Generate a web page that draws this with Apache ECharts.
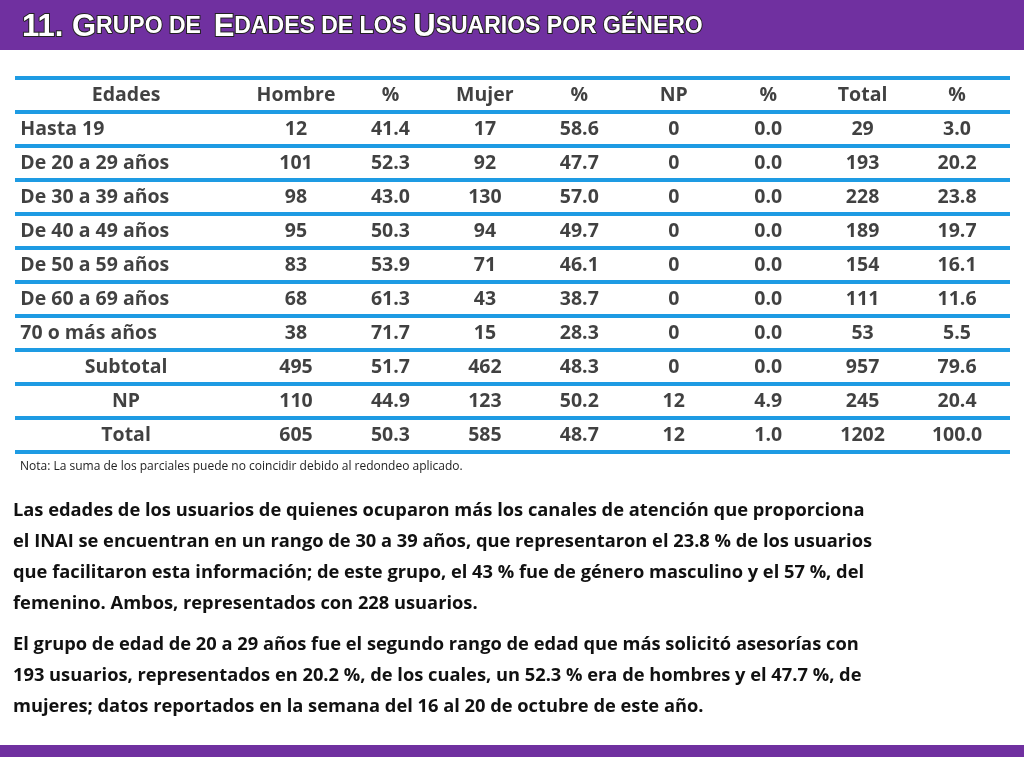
<!DOCTYPE html>
<html><head><meta charset="utf-8">
<script src="https://cdn.jsdelivr.net/npm/echarts@6/dist/echarts.min.js"></script>
<style>html,body{margin:0;padding:0;background:#fff}#c{width:1024px;height:768px}</style>
</head><body><div id="c"></div>
<script>
const headers = ['Edades','Hombre','%','Mujer','%','NP','%','Total','%'];
const rowLabels = ['Hasta 19','De 20 a 29 años','De 30 a 39 años','De 40 a 49 años','De 50 a 59 años','De 60 a 69 años','70 o más años','Subtotal','NP','Total'];
const hombre = [12,101,98,95,83,68,38,495,110,605];
const hombrePct = ['41.4','52.3','43.0','50.3','53.9','61.3','71.7','51.7','44.9','50.3'];
const mujer = [17,92,130,94,71,43,15,462,123,585];
const mujerPct = ['58.6','47.7','57.0','49.7','46.1','38.7','28.3','48.3','50.2','48.7'];
const np = [0,0,0,0,0,0,0,0,12,12];
const npPct = ['0.0','0.0','0.0','0.0','0.0','0.0','0.0','0.0','4.9','1.0'];
const total = [29,193,228,189,154,111,53,957,245,1202];
const totalPct = ['3.0','20.2','23.8','19.7','16.1','11.6','5.5','79.6','20.4','100.0'];
const note = 'Nota: La suma de los parciales puede no coincidir debido al redondeo aplicado.';
const para1 = ['Las edades de los usuarios de quienes ocuparon más los canales de atención que proporciona','el INAI se encuentran en un rango de 30 a 39 años, que representaron el 23.8 % de los usuarios','que facilitaron esta información; de este grupo, el 43 % fue de género masculino y el 57 %, del','femenino. Ambos, representados con 228 usuarios.'];
const para2 = ['El grupo de edad de 20 a 29 años fue el segundo rango de edad que más solicitó asesorías con','193 usuarios, representados en 20.2 %, de los cuales, un 52.3 % era de hombres y el 47.7 %, de','mujeres; datos reportados en la semana del 16 al 20 de octubre de este año.'];

const yCats = ['h'].concat(rowLabels.map((_, i) => 'r' + i));
const centerData = [], leftData = [];
headers.forEach((h, c) => centerData.push([c === 0 ? -0.8 : c, 0, h]));
const cols = [hombre, hombrePct, mujer, mujerPct, np, npPct, total, totalPct];
rowLabels.forEach((lab, r) => {
  if (r >= 7) centerData.push([-0.8, r + 1, lab]); else leftData.push([-1.92, r + 1, lab]);
  cols.forEach((arr, c) => centerData.push([c + 1, r + 1, String(arr[r])]));
});
const font = 'Open Sans';
const chart = echarts.init(document.getElementById('c'));
const graphics = [
  {type:'rect', shape:{x:0,y:0,width:1024,height:50}, style:{fill:'#7030a0'}},
  {type:'rect', shape:{x:0,y:745,width:1024,height:12}, style:{fill:'#7030a0'}},
  {type:'text', x:22, y:27, style:{text:'{b|11. G}{s|RUPO DE  }{b|E}{s|DADES DE LOS }{b|U}{s|SUARIOS POR GÉNERO}', verticalAlign:'middle',
    rich:{b:{fontSize:31,fontWeight:'bold',fontFamily:'Liberation Sans',fill:'#fff',stroke:'#222',lineWidth:2},
          s:{fontSize:23,fontWeight:'bold',fontFamily:'Liberation Sans',fill:'#fff',stroke:'#222',lineWidth:2}}}},
  {type:'text', x:20, y:467, style:{text:note, fontSize:12, fontFamily:'Open Sans', fill:'#222', verticalAlign:'middle'}}
];
para1.forEach((t, i) => graphics.push({type:'text', x:13, y:511 + i*31, style:{text:t, fontSize:18.3, fontWeight:'bold', fontFamily:font, fill:'#111', verticalAlign:'middle'}}));
para2.forEach((t, i) => graphics.push({type:'text', x:13, y:645 + i*31, style:{text:t, fontSize:18.3, fontWeight:'bold', fontFamily:font, fill:'#111', verticalAlign:'middle'}}));
chart.setOption({
  animation:false,
  grid:{left:15,right:14,top:78,height:374},
  xAxis:{type:'value', min:-1.976, max:8.561, show:false},
  yAxis:{type:'category', data:yCats, inverse:true, boundaryGap:true,
    axisLine:{show:false}, axisTick:{show:false}, axisLabel:{show:false},
    splitLine:{show:true, interval:0, lineStyle:{color:'#1e9be3', width:4}}},
  graphic: graphics,
  series:[
    {type:'scatter', symbolSize:0, data:centerData, label:{show:true, position:'inside', formatter:p=>p.data[2], fontSize:19.5, fontWeight:'bold', fontFamily:font, color:'#111'}},
    {type:'scatter', symbolSize:0, data:leftData, label:{show:true, position:'right', distance:0, formatter:p=>p.data[2], fontSize:19.5, fontWeight:'bold', fontFamily:font, color:'#111'}}
  ]
});
</script></body></html>
